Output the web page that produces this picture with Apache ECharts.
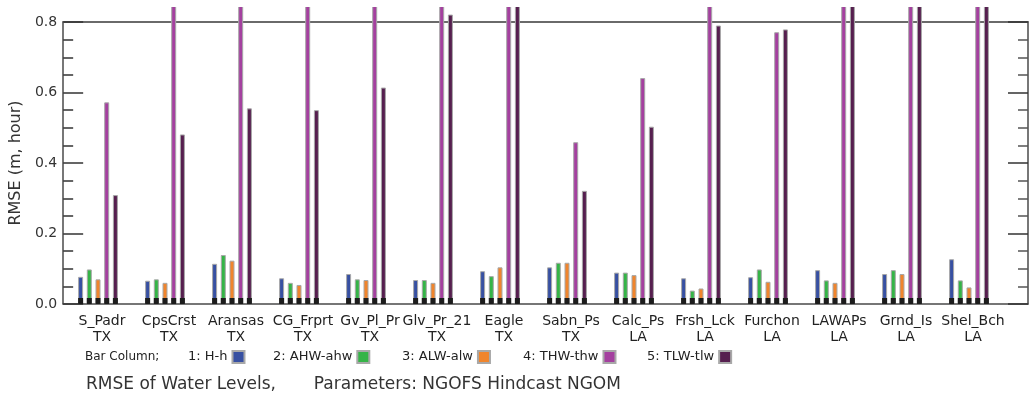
<!DOCTYPE html>
<html>
<head>
<meta charset="utf-8">
<script src="https://cdn.jsdelivr.net/npm/echarts@6/dist/echarts.min.js"></script>
<style>
html,body{margin:0;padding:0;background:#fff;}
#c{position:absolute;left:0;top:7px;width:1029px;height:389px;}
</style>
</head>
<body>
<div id="c"></div>
<script>
// ---- data ----
const stations = ["S_Padr","CpsCrst","Aransas","CG_Frprt","Gv_Pl_Pr","Glv_Pr_21","Eagle","Sabn_Ps","Calc_Ps","Frsh_Lck","Furchon","LAWAPs","Grnd_Is","Shel_Bch"];
const states   = ["TX","TX","TX","TX","TX","TX","TX","TX","LA","LA","LA","LA","LA","LA"];
const seriesNames = ["1: H-h","2: AHW-ahw","3: ALW-alw","4: THW-thw","5: TLW-tlw"];
// values above 0.8 run off the top of the plot (clipped); 0.9 is an estimate
const H_h     = [0.077,0.066,0.114,0.073,0.085,0.068,0.093,0.104,0.089,0.073,0.076,0.096,0.085,0.127];
const AHW_ahw = [0.098,0.070,0.139,0.060,0.070,0.068,0.079,0.117,0.089,0.038,0.098,0.067,0.096,0.067];
const ALW_alw = [0.070,0.060,0.123,0.054,0.068,0.060,0.104,0.117,0.082,0.044,0.063,0.060,0.085,0.047];
const THW_thw = [0.572,0.9,0.9,0.9,0.9,0.9,0.9,0.459,0.641,0.9,0.771,0.9,0.9,0.9];
const TLW_tlw = [0.309,0.481,0.555,0.550,0.614,0.821,0.9,0.321,0.503,0.790,0.779,0.9,0.9,0.9];
const yTicks = [0.0,0.2,0.4,0.6,0.8];

const values = [H_h, AHW_ahw, ALW_alw, THW_thw, TLW_tlw];
const colors = ["#3750a2","#35b447","#f0852d","#a4409f","#561f4f"];
const baseH = 0.017; // dark foot drawn at the base of every bar (style)
const legendLeft  = [188, 273, 402, 523, 647];
const legendTextW = [55, 92, 85, 85, 84];

const chart = echarts.init(document.getElementById('c'));
const series = [];
values.forEach((arr,i)=>{
  series.push({
    name: seriesNames[i], type:'bar', xAxisIndex:1, yAxisIndex:2,
    data: arr, barWidth:5, barGap:'74%', clip:false,
    itemStyle:{color:colors[i], borderColor:'#a8a8a8', borderWidth:1},
    z:3
  });
});
values.forEach((arr,i)=>{
  series.push({
    type:'bar', xAxisIndex:2, yAxisIndex:2,
    data: arr.map(()=>baseH), barWidth:5, barGap:'74%', clip:false,
    itemStyle:{color:'#1c1c1c'}, silent:true, z:4
  });
});

const axisLineStyle = {color:'#4a4a4a', width:1.5};
const legends = seriesNames.map((n,i)=>({
  data:[n], left:legendLeft[i], top:343, align:'right', icon:'rect',
  itemWidth:12, itemHeight:12, selectedMode:false, padding:0,
  textStyle:{fontFamily:'DejaVu Sans', fontSize:13, color:'#222', width:legendTextW[i]}
}));

chart.setOption({
  animation:false,
  grid:[
    {left:61, right:1, top:15, bottom:92},
    {left:64.5, right:26.5, top:15, bottom:92}
  ],
  xAxis:[
    {type:'value', gridIndex:0, min:0, max:1, position:'bottom',
     axisLine:{show:true, onZero:false, lineStyle:axisLineStyle}, axisTick:{show:false}, axisLabel:{show:false}, splitLine:{show:false}},
    {type:'category', gridIndex:1, data: stations.map((s,i)=>s+'\n'+states[i]), position:'bottom',
     axisLine:{show:false, onZero:false}, axisTick:{show:false}, splitLine:{show:false},
     axisLabel:{show:true, interval:0, margin:9, color:'#222', fontFamily:'DejaVu Sans', fontSize:14, lineHeight:16, padding:[0,0,0,8]}},
    {type:'category', gridIndex:1, data: stations, show:false},
    {type:'value', gridIndex:0, min:0, max:1, position:'top',
     axisLine:{show:true, onZero:false, lineStyle:{color:'#6a6a6a', width:2}}, axisTick:{show:false}, axisLabel:{show:false}, splitLine:{show:false}}
  ],
  yAxis:[
    {type:'value', gridIndex:0, min:0, max:0.8, interval:0.2, position:'left',
     name:'RMSE (m, hour)', nameLocation:'middle', nameGap:38,
     nameTextStyle:{fontFamily:'DejaVu Sans', fontSize:16, color:'#333'},
     axisLine:{show:true, onZero:false, lineStyle:axisLineStyle},
     axisTick:{show:true, inside:true, length:20, lineStyle:{color:'#333', width:1.5}},
     minorTick:{show:true, splitNumber:4, length:10, lineStyle:{color:'#333', width:1.5}},
     axisLabel:{show:true, margin:6, color:'#333', fontFamily:'DejaVu Sans', fontSize:14,
       formatter:v=>{const t=yTicks.find(x=>Math.abs(x-v)<1e-6); return t===undefined?'':t.toFixed(1);}},
     splitLine:{show:false}},
    {type:'value', gridIndex:0, min:0, max:0.8, interval:0.2, position:'right',
     axisLine:{show:true, onZero:false, lineStyle:axisLineStyle},
     axisTick:{show:true, inside:true, length:20, lineStyle:{color:'#333', width:1.5}},
     minorTick:{show:true, splitNumber:4, length:10, lineStyle:{color:'#555', width:1.5}},
     axisLabel:{show:false}, splitLine:{show:false}},
    {type:'value', gridIndex:1, min:0, max:0.8, show:false}
  ],
  legend: legends,
  title:[
    {text:'Bar Column;', left:85, top:344, padding:0, textStyle:{fontFamily:'DejaVu Sans', fontSize:12, fontWeight:'normal', color:'#222'}},
    {text:'RMSE of Water Levels,       Parameters: NGOFS Hindcast NGOM', left:86, top:369, padding:0,
     textStyle:{fontFamily:'DejaVu Sans', fontSize:17, fontWeight:'normal', color:'#333'}}
  ],
  series: series
});
</script>
</body>
</html>
